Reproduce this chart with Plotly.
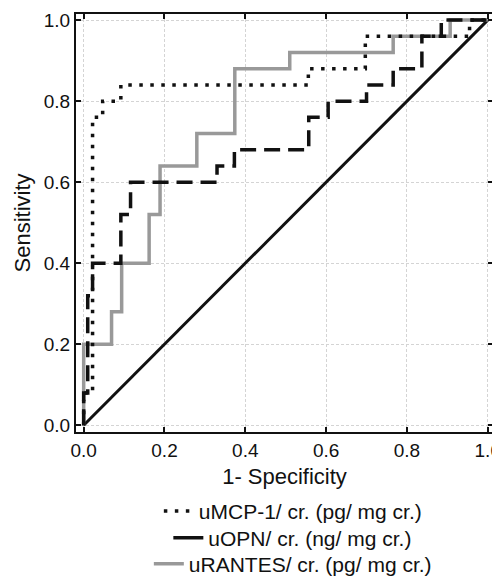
"""ROC curves for urinary uMCP-1, uOPN and uRANTES (creatinine-normalised)."""

import plotly.graph_objects as go

# ROC step points (1 - specificity, sensitivity)
mcp_fpr = [0, 0, 0.022, 0.022, 0.047, 0.047, 0.092, 0.092, 0.556, 0.556, 0.697, 0.697, 0.955, 0.955, 1.0]
mcp_tpr = [0, 0.08, 0.08, 0.76, 0.76, 0.80, 0.80, 0.84, 0.84, 0.88, 0.88, 0.96, 0.96, 1.0, 1.0]

opn_fpr = [0, 0, 0.01, 0.01, 0.022, 0.022, 0.092, 0.092, 0.116, 0.116, 0.33, 0.33, 0.373,
           0.373, 0.557, 0.557, 0.605, 0.605, 0.70, 0.70, 0.766, 0.766, 0.837, 0.837, 0.885, 0.885, 1.0]
opn_tpr = [0, 0.08, 0.08, 0.32, 0.32, 0.40, 0.40, 0.52, 0.52, 0.60, 0.60, 0.64, 0.64,
           0.68, 0.68, 0.76, 0.76, 0.80, 0.80, 0.84, 0.84, 0.88, 0.88, 0.96, 0.96, 1.0, 1.0]

rantes_fpr = [0, 0, 0.069, 0.069, 0.094, 0.094, 0.162, 0.162, 0.189, 0.189, 0.28, 0.28,
              0.374, 0.374, 0.51, 0.51, 0.766, 0.766, 0.907, 0.907, 1.0]
rantes_tpr = [0, 0.20, 0.20, 0.28, 0.28, 0.40, 0.40, 0.52, 0.52, 0.64, 0.64, 0.72,
              0.72, 0.88, 0.88, 0.92, 0.92, 0.96, 0.96, 1.0, 1.0]

ref_line = [0, 1]

names = ["uMCP-1/ cr. (pg/ mg cr.)", "uOPN/ cr. (ng/ mg cr.)", "uRANTES/ cr. (pg/ mg cr.)"]
ticks = [0, 0.2, 0.4, 0.6, 0.8, 1.0]

FONT = "Liberation Sans, Arial, sans-serif"
GRAY = "#999999"
BLACK = "#111111"
TEXT = "#111111"

fig = go.Figure()

fig.add_trace(go.Scatter(x=ref_line, y=ref_line, mode="lines",
                         line=dict(color=BLACK, width=3), showlegend=False))
fig.add_trace(go.Scatter(x=rantes_fpr, y=rantes_tpr, mode="lines",
                         line=dict(color=GRAY, width=3.5), showlegend=False))
fig.add_trace(go.Scatter(x=opn_fpr, y=opn_tpr, mode="lines",
                         line=dict(color=BLACK, width=3.5, dash="16px,8px"), showlegend=False))
fig.add_trace(go.Scatter(x=mcp_fpr, y=mcp_tpr, mode="lines",
                         line=dict(color=BLACK, width=3.5, dash="3.5px,7.5px"), showlegend=False))

# legend entries, one centred legend per row (uOPN drawn solid as in the original key)
legend_styles = [
    dict(color=BLACK, width=3.5, dash="3.5px,7.5px"),
    dict(color=BLACK, width=3.5),
    dict(color=GRAY, width=3.5),
]
legend_ids = ["legend", "legend2", "legend3"]
for name, style, lid in zip(names, legend_styles, legend_ids):
    fig.add_trace(go.Scatter(x=[None], y=[None], mode="lines", name=name,
                             line=style, legend=lid))

axis_common = dict(
    tickvals=ticks,
    tickformat=".1f",
    ticks="inside",
    ticklen=5,
    tickwidth=1.5,
    tickcolor=BLACK,
    showline=True,
    linecolor=BLACK,
    linewidth=2,
    mirror="ticks",
    showgrid=True,
    gridcolor="#d4d4d4",
    griddash="3px,2px",
    gridwidth=1,
    zeroline=False,
    automargin=False,
    ticklabeloverflow="allow",
    tickfont=dict(size=19, color=TEXT),
)

legend_common = dict(xanchor="center", x=0.52, yanchor="middle", bgcolor="rgba(0,0,0,0)",
                     font=dict(size=21, color=TEXT))

# the page body adds an 8px offset, so margins are shifted by 8px to keep the plot in place
fig.update_layout(
    width=500,
    height=577,
    margin=dict(l=68, r=15, t=6, b=153, autoexpand=False),
    paper_bgcolor="white",
    plot_bgcolor="white",
    font=dict(family=FONT, color=TEXT),
    xaxis=dict(range=[-0.019, 1.013], title=dict(text="1- Specificity", font=dict(size=22), standoff=9),
               **axis_common),
    yaxis=dict(range=[-0.0165, 1.015], title=dict(text="Sensitivity", font=dict(size=22), standoff=7),
               **axis_common),
    legend=dict(y=-0.19, **legend_common),
    legend2=dict(y=-0.254, **legend_common),
    legend3=dict(y=-0.316, **legend_common),
)

fig.write_html("out.html")
